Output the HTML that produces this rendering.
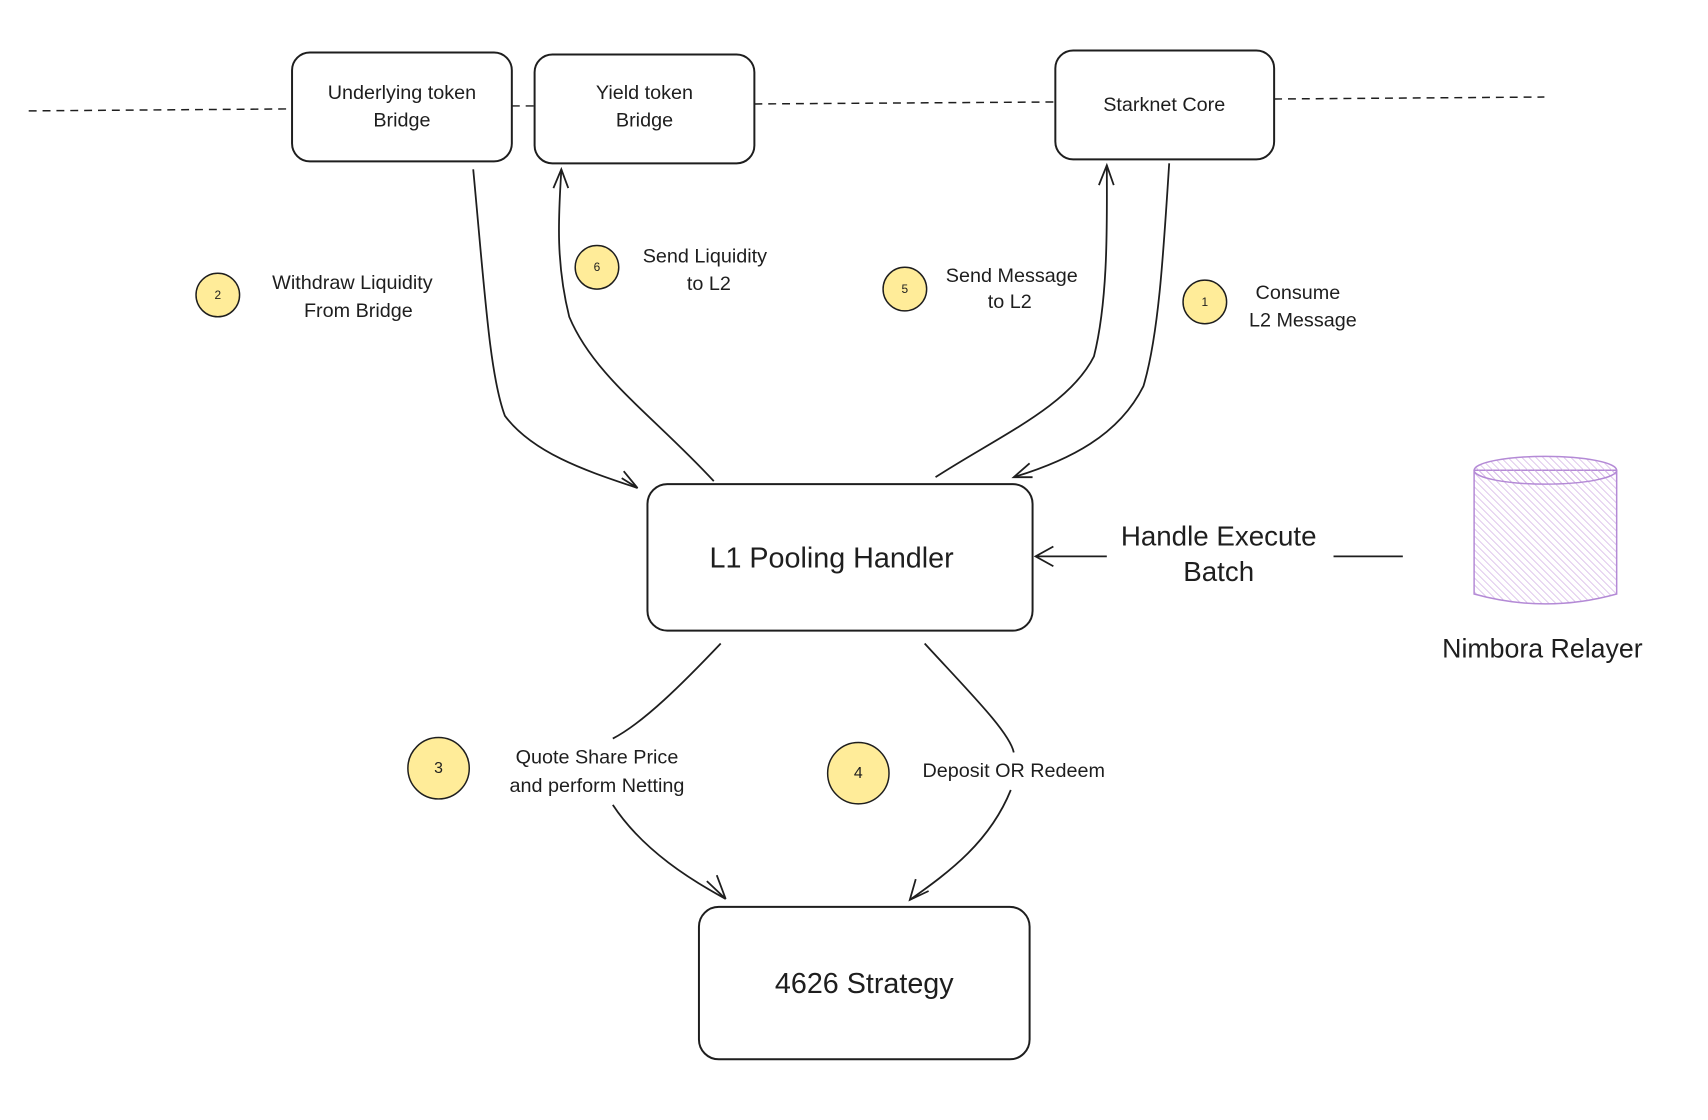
<!DOCTYPE html>
<html><head><meta charset="utf-8"><style>
html,body{margin:0;padding:0;background:#fff;}
svg{display:block;}
text{font-family:"Liberation Sans",sans-serif;fill:#1e1e1e;}
</style></head><body>
<svg width="1708" height="1120" viewBox="0 0 1708 1120" xmlns="http://www.w3.org/2000/svg">
<defs>
<pattern id="h" width="5" height="5" patternUnits="userSpaceOnUse" patternTransform="rotate(-45)">
<line x1="0" y1="0" x2="0" y2="5" stroke="#c9a3e0" stroke-width="1.2"/>
</pattern>
</defs>
<g transform="scale(0.99)">
<g stroke="#1e1e1e" stroke-width="1.5" stroke-dasharray="8,6" fill="none">
<line x1="29" y1="112" x2="295" y2="110"/>
<line x1="517" y1="107" x2="540" y2="107"/>
<line x1="762" y1="105" x2="1066" y2="103"/>
<line x1="1287" y1="100" x2="1560" y2="98"/>
</g>
<g stroke="#1e1e1e" stroke-width="2" fill="#fff">
<rect x="295" y="53" width="222" height="110" rx="18"/>
<rect x="540" y="55" width="222" height="110" rx="18"/>
<rect x="1066" y="51" width="221" height="110" rx="18"/>
<rect x="654" y="489" width="389" height="148" rx="20"/>
<rect x="706" y="916" width="334" height="154" rx="20"/>
</g>
<g font-size="20" text-anchor="middle">
<text x="406" y="100">Underlying token</text>
<text x="406" y="128">Bridge</text>
<text x="651" y="100">Yield token</text>
<text x="651" y="128">Bridge</text>
<text x="1176" y="112">Starknet Core</text>
</g>
<text x="840" y="573" font-size="29" text-anchor="middle">L1 Pooling Handler</text>
<text x="873" y="1003" font-size="29" text-anchor="middle">4626 Strategy</text>
<g stroke="#1e1e1e" stroke-width="1.8" fill="none">
<path d="M478 171 C490 300,495 380,510 420 C540 460,600 478,644 493"/>
<path d="M628 483 L644 493 L630 476"/>
<path d="M721 486 C660 420,600 380,575 320 C560 260,565 210,567 171"/>
<path d="M559 190 L567 171 L574 190"/>
<path d="M945 482 C1010 440,1080 410,1105 360 C1120 300,1118 220,1118 167"/>
<path d="M1110 187 L1118 167 L1125 187"/>
<path d="M1181 165 C1175 260,1170 340,1155 390 C1130 440,1080 465,1024 482"/>
<path d="M1040 468 L1024 482 L1043 482"/>
<path d="M728 650 C690 690,650 730,619 746"/>
<path d="M619 813 C650 860,700 890,733 908"/>
<path d="M714 890 L733 908 L724 884"/>
<path d="M934 650 C980 700,1020 740,1024 760"/>
<path d="M1021 798 C1000 850,960 880,919 909"/>
<path d="M925 888 L919 909 L938 900"/>
<path d="M1118 562 L1046 562"/>
<path d="M1064 552 L1046 562 L1064 572"/>
<path d="M1347 562 L1417 562"/>
</g>
<text x="1231" y="551" font-size="28" text-anchor="middle">Handle Execute</text>
<text x="1231" y="587" font-size="28" text-anchor="middle">Batch</text>
<g stroke="#b48ad6" stroke-width="1.5">
<path d="M1489 475 L1489 600 Q1561 620 1633 600 L1633 475 Z" fill="url(#h)"/>
<ellipse cx="1561" cy="475" rx="72" ry="14" fill="url(#h)"/>
</g>
<text x="1558" y="664" font-size="27" text-anchor="middle">Nimbora Relayer</text>
<g stroke="#1e1e1e" stroke-width="1.5" fill="#ffec99">
<circle cx="220" cy="298" r="22"/>
<circle cx="603" cy="270" r="22"/>
<circle cx="914" cy="292" r="22"/>
<circle cx="1217" cy="305" r="22"/>
<circle cx="443" cy="776" r="31"/>
<circle cx="867" cy="781" r="31"/>
</g>
<g font-size="12" text-anchor="middle">
<text x="220" y="302">2</text><text x="603" y="274">6</text>
<text x="914" y="296">5</text><text x="1217" y="309">1</text>
</g>
<g font-size="16" text-anchor="middle">
<text x="443" y="781">3</text><text x="867" y="786">4</text>
</g>
<g font-size="20" text-anchor="middle">
<text x="356" y="292">Withdraw Liquidity</text>
<text x="362" y="320">From Bridge</text>
<text x="712" y="265">Send Liquidity</text>
<text x="716" y="293">to L2</text>
<text x="1022" y="285">Send Message</text>
<text x="1020" y="311">to L2</text>
<text x="1311" y="302">Consume</text>
<text x="1316" y="330">L2 Message</text>
<text x="603" y="771">Quote Share Price</text>
<text x="603" y="800">and perform Netting</text>
<text x="1024" y="785">Deposit OR Redeem</text>
</g>
</g>
</svg>
</body></html>
